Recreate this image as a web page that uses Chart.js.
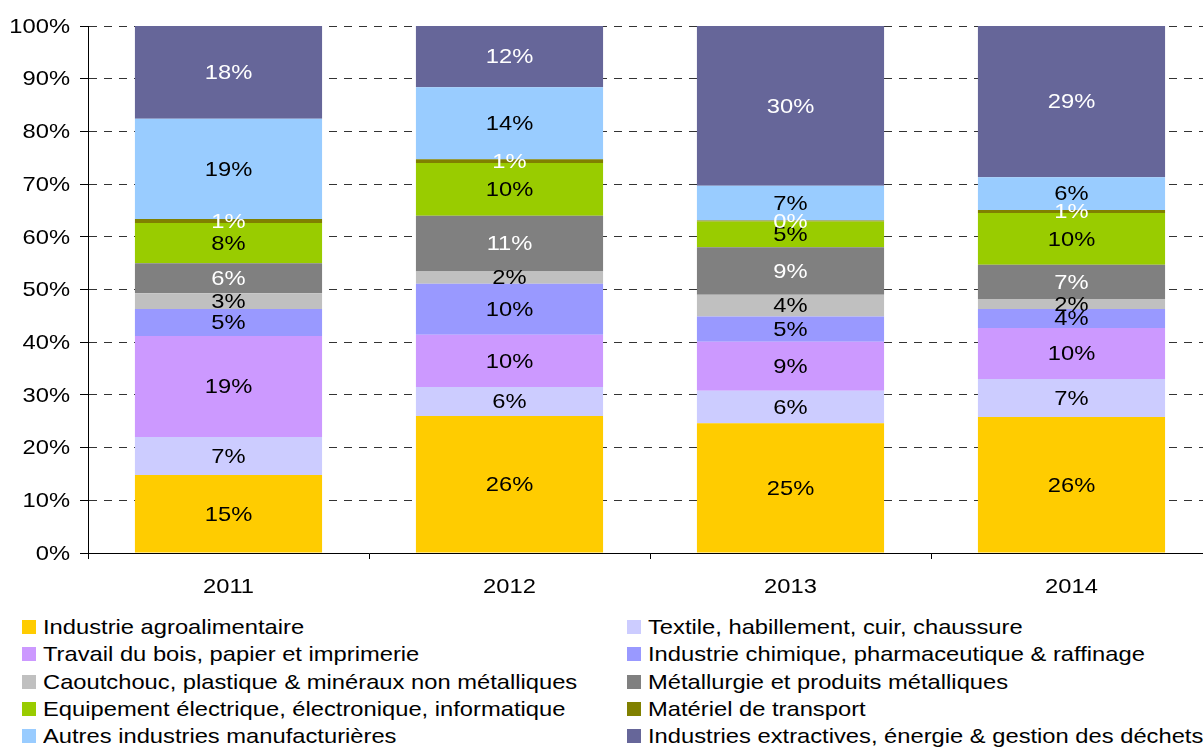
<!DOCTYPE html>
<html>
<head>
<meta charset="utf-8">
<script src="https://cdn.jsdelivr.net/npm/chart.js@4.4.1/dist/chart.umd.min.js"></script>
<style>
  html, body { margin: 0; padding: 0; background: #fff; overflow: hidden; }
  body { width: 1203px; height: 747px; position: relative; font-family: "Liberation Sans", Arial, sans-serif; }
  #wrap { position: absolute; left: 0; top: 0; width: 1212px; height: 600px; }
  #legend { position: absolute; left: 0; top: 613px; width: 1203px; }
  .row { position: relative; height: 27.3px; }
  .item { position: absolute; top: 0; height: 27.3px; line-height: 27.3px; font-size: 21px; color: #000; white-space: nowrap; }
  .box { position: absolute; top: 7px; width: 14px; height: 14px; }
  .txt { position: absolute; transform: scaleX(1.13); transform-origin: 0 50%; }
</style>
</head>
<body>
<div id="wrap"><canvas id="myChart"></canvas></div>
<div id="legend"></div>
<script>
// categories and series (share of each sector, in %)
var years = ["2011", "2012", "2013", "2014"];
var yTicks = [0, 10, 20, 30, 40, 50, 60, 70, 80, 90, 100];

var agro        = [14.8, 26.0, 24.6, 25.8];
var textile     = [7.2, 5.5, 6.2, 7.2];
var bois        = [19.2, 9.9, 9.3, 9.7];
var chimique    = [5.1, 9.7, 4.8, 3.6];
var caoutchouc  = [3.0, 2.3, 4.1, 1.9];
var metallurgie = [5.7, 10.6, 9.0, 6.5];
var equipement  = [7.6, 10.0, 4.9, 9.8];
var transport   = [0.8, 0.7, 0.2, 0.6];
var autres      = [19.0, 13.7, 6.6, 6.2];
var extractives = [17.6, 11.6, 30.3, 28.7];

var series = [
  { label: "Industrie agroalimentaire", data: agro, color: "#FFCC00", text: "#000" },
  { label: "Textile, habillement, cuir, chaussure", data: textile, color: "#CCCCFF", text: "#000" },
  { label: "Travail du bois, papier et imprimerie", data: bois, color: "#CC99FF", text: "#000" },
  { label: "Industrie chimique, pharmaceutique & raffinage", data: chimique, color: "#9999FF", text: "#000" },
  { label: "Caoutchouc, plastique & minéraux non métalliques", data: caoutchouc, color: "#C0C0C0", text: "#000" },
  { label: "Métallurgie et produits métalliques", data: metallurgie, color: "#808080", text: "#fff" },
  { label: "Equipement électrique, électronique, informatique", data: equipement, color: "#99CC00", text: "#000" },
  { label: "Matériel de transport", data: transport, color: "#808000", text: "#fff" },
  { label: "Autres industries manufacturières", data: autres, color: "#99CCFF", text: "#000" },
  { label: "Industries extractives, énergie & gestion des déchets", data: extractives, color: "#666699", text: "#fff" }
];

var FONT = '21px "Liberation Sans", Arial, sans-serif';
var SX = 1.13; // the original text is a bit wider than Arial

function wideText(ctx, txt, x, y, align, color) {
  ctx.save();
  ctx.translate(x, y);
  ctx.scale(SX, 1);
  ctx.font = FONT;
  ctx.textAlign = align;
  ctx.textBaseline = "middle";
  ctx.fillStyle = color;
  ctx.fillText(txt, 0, 0);
  ctx.restore();
}

// tick labels + labels inside each segment
var textPlugin = {
  id: "textPlugin",
  afterDatasetsDraw: function (chart) {
    var ctx = chart.ctx;
    chart.data.datasets.forEach(function (ds, i) {
      var meta = chart.getDatasetMeta(i);
      meta.data.forEach(function (bar, j) {
        wideText(ctx, Math.round(ds.data[j]) + "%", bar.x, (bar.y + bar.base) / 2 + 1, "center", series[i].text);
      });
    });
    var ys = chart.scales.y, xs = chart.scales.x;
    yTicks.forEach(function (v) {
      wideText(ctx, v + "%", 70, ys.getPixelForValue(v) + 1, "right", "#000");
    });
    years.forEach(function (lab, k) {
      wideText(ctx, lab, xs.getPixelForValue(k), 587, "center", "#000");
    });
  }
};

var ctx = document.getElementById('myChart').getContext('2d');
var chart = new Chart(ctx, {
  type: 'bar',
  data: {
    labels: years,
    datasets: series.map(function (s) {
      return {
        label: s.label,
        data: s.data,
        backgroundColor: s.color,
        borderWidth: 0,
        categoryPercentage: 0.666,
        barPercentage: 1.0
      };
    })
  },
  options: {
    responsive: true,
    maintainAspectRatio: false,
    animation: false,
    layout: { padding: { top: 26, left: 0, right: 0, bottom: 0 } },
    plugins: {
      legend: { display: false },
      tooltip: { enabled: false }
    },
    scales: {
      x: {
        stacked: true,
        afterFit: function (s) { s.height = 47; },
        grid: { offset: true, drawOnChartArea: false, drawTicks: true, tickLength: 6, color: "#000" },
        border: { display: true, color: "#000", width: 1 },
        ticks: { display: false }
      },
      y: {
        stacked: true,
        min: 0,
        max: 100,
        afterFit: function (s) { s.width = 88; },
        afterBuildTicks: function (s) { s.ticks = yTicks.map(function (v) { return { value: v }; }); },
        grid: { color: "#333", lineWidth: 1, tickLength: 8, tickColor: "#000", tickBorderDash: [] },
        border: { display: true, color: "#000", width: 1, dash: [8, 7] },
        ticks: { display: false }
      }
    }
  },
  plugins: [textPlugin]
});

// two-column legend under the chart
var legend = document.getElementById('legend');
for (var r = 0; r < series.length / 2; r++) {
  var row = document.createElement('div');
  row.className = 'row';
  [0, 1].forEach(function (c) {
    var s = series[r * 2 + c];
    var it = document.createElement('div');
    it.className = 'item';
    it.style.left = (c === 0 ? 22 : 627) + 'px';
    it.innerHTML = '<span class="box" style="left:0;background:' + s.color + '"></span>' +
                   '<span class="txt" style="left:21px">' + s.label + '</span>';
    row.appendChild(it);
  });
  legend.appendChild(row);
}
</script>
</body>
</html>
